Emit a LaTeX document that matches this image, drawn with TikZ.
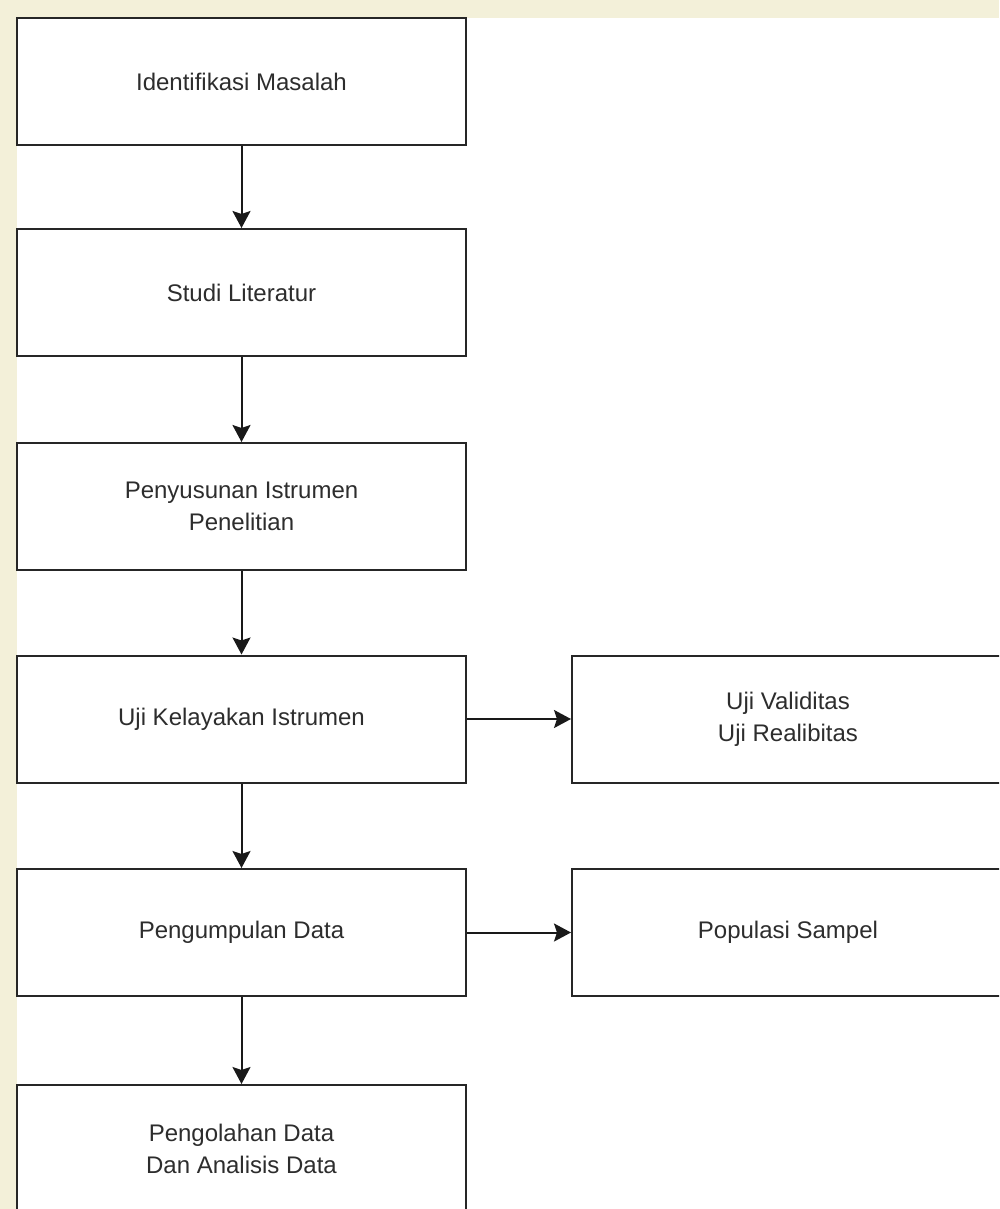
\documentclass[tikz,border=0pt]{standalone}
\usepackage{fontspec}
\setmainfont{Liberation Sans}
\usetikzlibrary{arrows.meta}
\definecolor{beige}{RGB}{243,240,217}
\definecolor{txt}{RGB}{45,45,45}
\begin{document}
\begin{tikzpicture}[x=1pt,y=-1pt,
  box/.style={draw=black!85,line width=2pt,fill=white,minimum width=449pt,minimum height=127pt,
    align=center,text=txt,inner sep=0pt,font=\fontsize{24}{32}\selectfont},
  sidebox/.style={box,minimum width=432pt},
  arr/.style={draw=black!90,line width=2pt,-{Stealth[length=17pt,width=18pt,inset=3pt]}}]
\useasboundingbox (0,0) rectangle (999,1209);
\clip (0,0) rectangle (999,1209);
\fill[white] (0,0) rectangle (999,1209);
\fill[beige] (0,0) rectangle (999,18);
\fill[beige] (0,0) rectangle (17,1209);
\node[box] (n1) at (241.5,81.5) {Identifikasi Masalah};
\node[box] (n2) at (241.5,292.5) {Studi Literatur};
\node[box] (n3) at (241.5,506.5) {Penyusunan Istrumen\\Penelitian};
\node[box] (n4) at (241.5,719) {Uji Kelayakan Istrumen};
\node[box] (n5) at (241.5,932.5) {Pengumpulan Data};
\node[box] (n6) at (241.5,1148.5) {Pengolahan Data\\Dan Analisis Data};
\node[sidebox] (s1) at (788,719) {Uji Validitas\\Uji Realibitas};
\node[sidebox] (s2) at (788,932.5) {Populasi Sampel};
\draw[arr] (n1) -- (n2);
\draw[arr] (n2) -- (n3);
\draw[arr] (n3) -- (n4);
\draw[arr] (n4) -- (n5);
\draw[arr] (n5) -- (n6);
\draw[arr] (n4) -- (s1);
\draw[arr] (n5) -- (s2);
\end{tikzpicture}
\end{document}
